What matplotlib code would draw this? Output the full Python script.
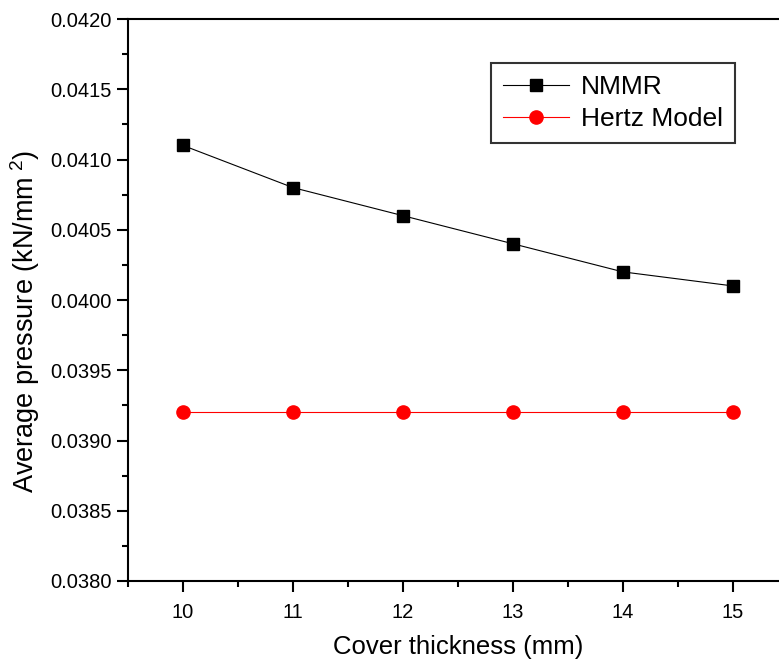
import matplotlib
matplotlib.use("Agg")
import matplotlib.pyplot as plt
from matplotlib.ticker import MultipleLocator, FormatStrFormatter

plt.rcParams['font.family'] = ['Liberation Sans', 'DejaVu Sans']
plt.rcParams['mathtext.fontset'] = 'custom'
plt.rcParams['mathtext.rm'] = 'Liberation Sans'
plt.rcParams['mathtext.it'] = 'Liberation Sans'

# data
thickness = [10, 11, 12, 13, 14, 15]
nmmr = [0.0411, 0.0408, 0.0406, 0.0404, 0.0402, 0.0401]
hertz = [0.0392, 0.0392, 0.0392, 0.0392, 0.0392, 0.0392]

fig = plt.figure(figsize=(7.79, 6.61), dpi=100)
# axes run a little past the right edge, like in the original
ax = fig.add_axes([128 / 779, 80 / 661, 660 / 779, 562 / 661])

ax.plot(thickness, nmmr, color='black', lw=0.8, marker='s', ms=8, label='NMMR')
ax.plot(thickness, hertz, color='red', lw=0.8, marker='o', ms=9.5, label='Hertz Model')

ax.set_xlim(9.5, 15.5)
ax.set_ylim(0.0380, 0.0420)
ax.xaxis.set_major_locator(MultipleLocator(1))
ax.xaxis.set_minor_locator(MultipleLocator(0.5))
ax.yaxis.set_major_locator(MultipleLocator(0.0005))
ax.yaxis.set_minor_locator(MultipleLocator(0.00025))
ax.yaxis.set_major_formatter(FormatStrFormatter('%.4f'))

ax.tick_params(which='major', direction='out', length=8, width=1.5, labelsize=14.5, pad=4)
ax.tick_params(axis='x', which='major', pad=8)
ax.tick_params(which='minor', direction='out', length=4.5, width=1.5)
for s in ax.spines.values():
    s.set_linewidth(1.5)

ax.set_xlabel('Cover thickness (mm)', fontsize=18.5, labelpad=9)
ax.set_ylabel('Average pressure (kN/mm$^{\\ 2}$)', fontsize=19.5)
# label sits a bit below the axes middle in the original
ax.yaxis.set_label_coords(-86 / 660, (581 - 322) / 562)

leg = ax.legend(loc='upper left', bbox_to_anchor=(363 / 660, 1 - 44 / 562), fontsize=19,
                frameon=True, fancybox=False, edgecolor='black', handlelength=2.5,
                handletextpad=0.45, borderpad=0.45, labelspacing=0.3, borderaxespad=0)
leg.get_frame().set_linewidth(1.5)

fig.savefig('out.png', dpi=100)
